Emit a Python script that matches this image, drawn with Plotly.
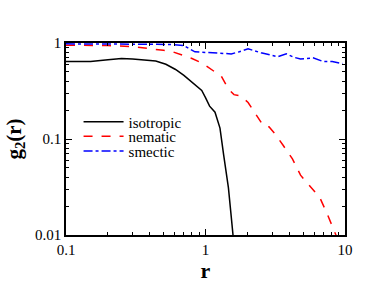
import plotly.graph_objects as go

r_iso = [0.1, 0.15, 0.2, 0.25, 0.3, 0.37, 0.44, 0.52, 0.61, 0.7, 0.8, 0.9, 0.94, 1.0, 1.07, 1.17, 1.27, 1.35, 1.46, 1.52, 1.58]
g_iso = [0.64, 0.64, 0.67, 0.69, 0.68, 0.67, 0.65, 0.6, 0.53, 0.46, 0.39, 0.33, 0.32, 0.27, 0.22, 0.19, 0.13, 0.068, 0.031, 0.017, 0.0095]

r_nem = [0.1, 0.15, 0.2, 0.29, 0.4, 0.5, 0.58, 0.68, 0.8, 0.94, 1.1, 1.3, 1.46, 1.6, 1.8, 2.02, 2.3, 2.6, 2.85, 3.2, 3.6, 4.2, 4.8, 5.5, 6.6, 7.4, 8.2, 8.9]
g_nem = [0.95, 0.95, 0.94, 0.92, 0.88, 0.84, 0.81, 0.75, 0.69, 0.62, 0.53, 0.45, 0.33, 0.29, 0.28, 0.24, 0.18, 0.137, 0.134, 0.11, 0.086, 0.062, 0.042, 0.033, 0.0245, 0.017, 0.012, 0.0089]

r_sme = [0.1, 0.2, 0.3, 0.45, 0.6, 0.7, 0.84, 1.0, 1.2, 1.53, 1.75, 2.02, 2.5, 3.0, 3.3, 3.8, 4.3, 4.8, 5.9, 7.0, 8.1, 9.6]
g_sme = [0.98, 0.98, 0.97, 0.97, 0.96, 0.94, 0.81, 0.8, 0.78, 0.77, 0.81, 0.87, 0.79, 0.75, 0.72, 0.77, 0.71, 0.68, 0.70, 0.64, 0.64, 0.61]

xticks = [0.1, 1, 10]
xticklabels = ["0.1", "1", "10"]
yticks = [0.01, 0.1, 1]
yticklabels = ["0.01", "0.1", "1"]

font = "Liberation Serif, Times New Roman, serif"

fig = go.Figure()
fig.add_trace(go.Scatter(x=r_iso, y=g_iso, mode="lines", name="isotropic", legend="legend",
                         line=dict(color="black", width=1.5)))
fig.add_trace(go.Scatter(x=r_nem, y=g_nem, mode="lines", name="nematic", legend="legend2",
                         line=dict(color="red", width=1.5, dash="dash")))
fig.add_trace(go.Scatter(x=r_sme, y=g_sme, mode="lines", name="smectic", legend="legend3",
                         line=dict(color="blue", width=1.5, dash="dashdot")))

minor_x = [m * d for d in [0.1, 1] for m in range(2, 10)]
minor_y = [m * d for d in [0.01, 0.1] for m in range(2, 10)]

axis_common = dict(showline=True, linecolor="black", linewidth=1.5, mirror="allticks",
                   ticks="inside", ticklen=6, tickwidth=1, tickcolor="black",
                   showgrid=False, zeroline=False,
                   tickfont=dict(family=font, size=15, color="black"))

fig.update_xaxes(type="log", range=[-1, 1], tickmode="array", tickvals=xticks, ticktext=xticklabels,
                 minor=dict(tickmode="array", tickvals=minor_x, ticks="inside", ticklen=3, tickcolor="black"),
                 title=dict(text="<b>r</b>", font=dict(family=font, size=22, color="black"), standoff=0),
                 **axis_common)
fig.update_yaxes(type="log", range=[-2, 0], tickmode="array", tickvals=yticks, ticktext=yticklabels,
                 minor=dict(tickmode="array", tickvals=minor_y, ticks="inside", ticklen=3, tickcolor="black"),
                 title=dict(text="<b>g<sub>2</sub>(r)</b>", font=dict(family=font, size=21, color="black"), standoff=8),
                 **axis_common)

def leg(ycenter_px):
    yp = 1 - (ycenter_px - 43) / 197.0
    return dict(x=0.045, y=yp, xanchor="left", yanchor="middle",
                bgcolor="rgba(0,0,0,0)", font=dict(family=font, size=15, color="black"),
                itemwidth=40)

fig.update_layout(width=374, height=285, margin=dict(l=62, r=29, t=43, b=45),
                  paper_bgcolor="white", plot_bgcolor="white",
                  showlegend=True,
                  legend=leg(124), legend2=leg(139), legend3=leg(154))

fig.write_html("out.html", config={"displayModeBar": False},
               post_script="document.body.style.margin='0';")
